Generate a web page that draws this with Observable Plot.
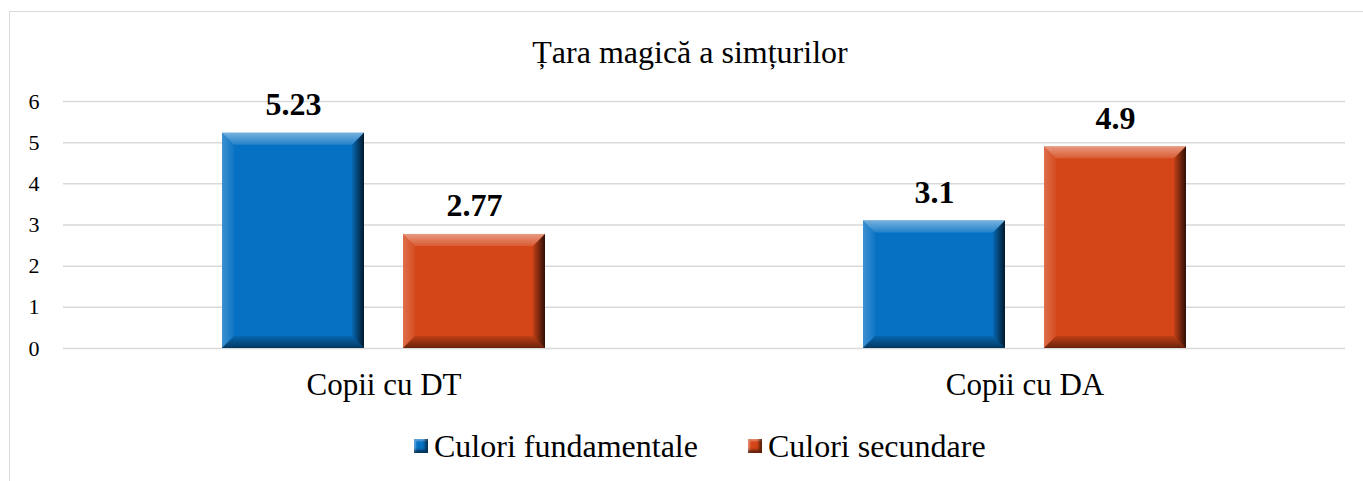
<!DOCTYPE html>
<html>
<head>
<meta charset="utf-8">
<script src="https://cdn.jsdelivr.net/npm/d3@7"></script>
<script src="https://cdn.jsdelivr.net/npm/@observablehq/plot@0.6"></script>
<style>
html,body{margin:0;padding:0;background:#fff;overflow:hidden;}
#wrap{position:relative;width:1363px;height:481px;overflow:hidden;font-family:"Liberation Serif","Times New Roman",serif;color:#000;}
#frame{position:absolute;left:9px;top:11px;width:1400px;height:520px;border:1.5px solid #d9d9d9;box-sizing:border-box;}
#chart{position:absolute;left:0;top:0;}
#title{position:absolute;left:0;top:36px;width:1380px;text-align:center;font-size:32px;line-height:32px;}
#legend{position:absolute;left:414px;top:430px;display:flex;align-items:center;font-size:32px;line-height:32px;white-space:nowrap;}
.item{display:flex;align-items:center;margin-right:50px;}
.sw{width:14px;height:14px;margin-right:6px;box-shadow:inset -3px -3px 3px rgba(0,0,0,.55), inset 2px 2px 2px rgba(255,255,255,.35);}
</style>
</head>
<body>
<div id="wrap">
  <div id="frame"></div>
  <div id="chart"></div>
  <div id="title"></div>
  <div id="legend"></div>
</div>
<script>
const titleText = "Țara magică a simțurilor";
const groups = ["Copii cu DT", "Copii cu DA"];
const series = ["Culori fundamentale", "Culori secundare"];
const fundamentale = [5.23, 3.1];
const secundare = [2.77, 4.9];
const yTicks = [0, 1, 2, 3, 4, 5, 6];
const colors = ["#0671c3", "#d44618"];

const data = [];
groups.forEach((g, i) => {
  data.push({group: g, series: series[0], value: fundamentale[i]});
  data.push({group: g, series: series[1], value: secundare[i]});
});

const serif = '"Liberation Serif","Times New Roman",serif';
const ns = "http://www.w3.org/2000/svg";
function bevel(index, scales, values, dimensions, context, next) {
  const g = next(index, scales, values, dimensions, context);
  g.querySelectorAll("rect").forEach(r => {
    const x = +r.getAttribute("x"), y = +r.getAttribute("y");
    const w = +r.getAttribute("width"), h = +r.getAttribute("height");
    const b = 12;
    const polys = [
      [[[x, y], [x + w, y], [x + w - b, y + b], [x + b, y + b]], "url(#bvTop)"],
      [[[x, y], [x + b, y + b], [x + b, y + h - b], [x, y + h]], "url(#bvLeft)"],
      [[[x + w, y], [x + w, y + h], [x + w - b, y + h - b], [x + w - b, y + b]], "url(#bvRight)"],
      [[[x, y + h], [x + b, y + h - b], [x + w - b, y + h - b], [x + w, y + h]], "url(#bvBottom)"]
    ];
    const parent = r.parentNode;
    polys.forEach(([pts, fill]) => {
      const p = document.createElementNS(ns, "polygon");
      p.setAttribute("points", pts.map(q => q.join(",")).join(" "));
      p.setAttribute("fill", fill);
      parent.appendChild(p);
    });
  });
  return g;
}

const chart = Plot.plot({
  width: 1363,
  height: 481,
  marginTop: 101,
  marginBottom: 133,
  marginLeft: 62,
  marginRight: 18,
  style: {fontFamily: serif, background: "transparent", color: "#000", overflow: "visible"},
  fx: {domain: groups, padding: 0, label: null, axis: null},
  x: {domain: series, paddingInner: 0.214, paddingOuter: 0.869, axis: null},
  y: {domain: [0, 6], label: null, axis: null},
  color: {domain: series, range: colors},
  marks: [
    Plot.ruleY(yTicks, {stroke: "#d9d9d9", strokeWidth: 1.5}),
    Plot.axisY({ticks: yTicks, tickFormat: d3.format("d"), tickSize: 0, tickPadding: 24, fontSize: 22, fontFamily: serif, fill: "#000", label: null}),
    Plot.axisFx({anchor: "bottom", tickSize: 0, tickPadding: 24, fontSize: 31, fontFamily: serif, fill: "#000", label: null}),
    Plot.barY(data, {fx: "group", x: "series", y: "value", fill: "series", render: bevel}),
    Plot.text(data, {fx: "group", x: "series", y: "value", text: d => String(d.value), lineAnchor: "bottom", dy: -18, fontSize: 32, fontWeight: "bold", fontFamily: serif, fill: "#000"})
  ]
});

const defs = document.createElementNS(ns, "defs");
defs.innerHTML = `
<linearGradient id="bvTop" x1="0" y1="0" x2="0" y2="1"><stop offset="0" stop-color="#fff" stop-opacity="0.45"/><stop offset="1" stop-color="#fff" stop-opacity="0.12"/></linearGradient>
<linearGradient id="bvLeft" x1="0" y1="0" x2="1" y2="0"><stop offset="0" stop-color="#fff" stop-opacity="0.22"/><stop offset="1" stop-color="#fff" stop-opacity="0.04"/></linearGradient>
<linearGradient id="bvRight" x1="0" y1="0" x2="1" y2="0"><stop offset="0" stop-color="#000" stop-opacity="0.08"/><stop offset="1" stop-color="#000" stop-opacity="0.78"/></linearGradient>
<linearGradient id="bvBottom" x1="0" y1="0" x2="0" y2="1"><stop offset="0" stop-color="#000" stop-opacity="0.1"/><stop offset="1" stop-color="#000" stop-opacity="0.5"/></linearGradient>`;
chart.insertBefore(defs, chart.firstChild);
document.getElementById("chart").appendChild(chart);

document.getElementById("title").textContent = titleText;
const legend = document.getElementById("legend");
series.forEach((s, i) => {
  const item = document.createElement("div");
  item.className = "item";
  const sw = document.createElement("div");
  sw.className = "sw";
  sw.style.background = colors[i];
  const t = document.createElement("span");
  t.textContent = s;
  item.appendChild(sw);
  item.appendChild(t);
  legend.appendChild(item);
});
</script>
</body>
</html>
